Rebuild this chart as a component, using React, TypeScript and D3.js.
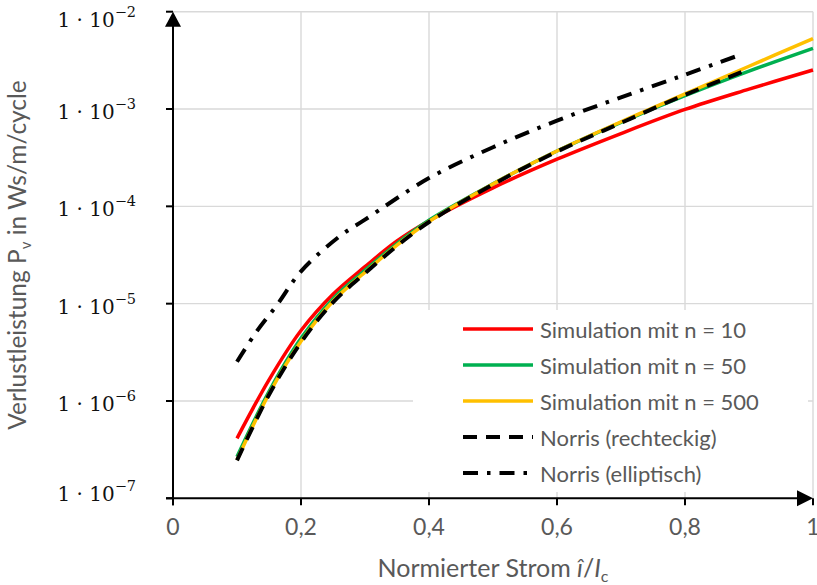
import React from 'react';
import * as d3 from 'd3';

// ---- data ----
const simX = [0.1, 0.15, 0.2, 0.25, 0.3, 0.35, 0.4, 0.5, 0.6, 0.7, 0.8, 0.9, 1.0];
const simN10 = [4.13e-7, 1.65e-6, 5.3e-6, 1.25e-5, 2.4e-5, 4.4e-5, 7.1e-5, 1.55e-4, 3.05e-4, 5.6e-4, 9.9e-4, 1.6e-3, 2.52e-3];
const simN50 = [2.67e-7, 1.25e-6, 4.4e-6, 1.12e-5, 2.2e-5, 4.15e-5, 7.2e-5, 1.7e-4, 3.7e-4, 7.3e-4, 1.37e-3, 2.45e-3, 4.2e-3];
const simN500 = [2.47e-7, 1.18e-6, 4.1e-6, 1.06e-5, 2.1e-5, 4.0e-5, 7.0e-5, 1.7e-4, 3.7e-4, 7.4e-4, 1.43e-3, 2.75e-3, 5.3e-3];
const rectX = [0.1, 0.15, 0.2, 0.25, 0.3, 0.35, 0.4, 0.5, 0.6, 0.7, 0.8, 0.889];
const norrisRect = [2.45e-7, 1.16e-6, 4.0e-6, 1.03e-5, 2.05e-5, 3.92e-5, 6.9e-5, 1.68e-4, 3.65e-4, 7.2e-4, 1.4e-3, 2.4e-3];
const ellipX = [0.1, 0.13, 0.164, 0.2, 0.26, 0.3, 0.4, 0.5, 0.6, 0.7, 0.8, 0.886];
const norrisEllip = [2.53e-6, 5.1e-6, 1.0e-5, 2.15e-5, 4.9e-5, 7.3e-5, 1.95e-4, 4.05e-4, 7.6e-4, 1.32e-3, 2.25e-3, 3.6e-3];

const xTicks = [0, 0.2, 0.4, 0.6, 0.8, 1];
const yExponents = [-2, -3, -4, -5, -6, -7];

const legendLabels = [
  'Simulation mit n = 10',
  'Simulation mit n = 50',
  'Simulation mit n = 500',
  'Norris (rechteckig)',
  'Norris (elliptisch)',
];

// ---- styles ----
const W = 817, H = 585;
const left = 173, right = 813, top = 11.7, bottom = 498.3;
const gridColor = '#d9d9d9';
const textGray = '#595959';
const sansFont = 'Lato, "Open Sans", sans-serif';
const serifFont = '"DejaVu Serif", serif';

type Series = { xs: number[]; ys: number[]; color: string; width: number; dash?: string };

const series: Series[] = [
  { xs: simX, ys: simN10, color: '#ff0000', width: 3.5 },
  { xs: simX, ys: simN50, color: '#00b050', width: 3.5 },
  { xs: simX, ys: simN500, color: '#ffc000', width: 3.5 },
  { xs: rectX, ys: norrisRect, color: '#000000', width: 4, dash: '14,9' },
  { xs: ellipX, ys: norrisEllip, color: '#000000', width: 4, dash: '15,9,3.5,9' },
];

const fmt = d3.formatLocale({ decimal: ',', thousands: '.', grouping: [3], currency: ['', '€'] }).format('~g');

export default function App() {
  const x = d3.scaleLinear().domain([0, 1]).range([left, right]);
  const y = d3.scaleLog().domain([1e-7, 1e-2]).range([bottom, top]);

  const line = (s: Series) =>
    d3
      .line<number>()
      .x((_, i) => x(s.xs[i]))
      .y((v) => y(v))
      .curve(d3.curveCatmullRom.alpha(0.5))(s.ys) || '';

  const legend = { x0: 413, y0: 310, x1: 808, y1: 492, lx0: 463, lx1: 533, tx: 540, ry0: 329, dy: 36 };

  return (
    <svg width={W} height={H} style={{ position: 'absolute', left: 0, top: 0, background: '#fff' }}>
      {/* gridlines */}
      {xTicks.slice(1).map((t) => (
        <line key={'gx' + t} x1={x(t)} x2={x(t)} y1={y(1e-2)} y2={y(1e-7)} stroke={gridColor} strokeWidth={1.4} />
      ))}
      {yExponents.slice(0, -1).map((e) => (
        <line key={'gy' + e} x1={x(0)} x2={x(1)} y1={y(Math.pow(10, e))} y2={y(Math.pow(10, e))} stroke={gridColor} strokeWidth={1.4} />
      ))}

      {/* legend box (covers gridlines) */}
      <rect x={legend.x0} y={legend.y0} width={legend.x1 - legend.x0} height={legend.y1 - legend.y0} fill="#fff" />

      {/* series */}
      {series.map((s, i) => (
        <path key={'s' + i} d={line(s)} fill="none" stroke={s.color} strokeWidth={s.width} strokeDasharray={s.dash} />
      ))}

      {/* axes */}
      <line x1={x(0)} x2={x(0)} y1={y(1e-7) + 7} y2={y(1e-2) + 10} stroke="#000" strokeWidth={2} />
      <path d={`M${x(0)},${y(1e-2)} L${x(0) - 8},${y(1e-2) + 15} L${x(0) + 8},${y(1e-2) + 15} Z`} fill="#000" />
      <line x1={x(0) - 7} x2={x(1) - 10} y1={y(1e-7)} y2={y(1e-7)} stroke="#000" strokeWidth={2} />
      <path d={`M${x(1)},${y(1e-7)} L${x(1) - 16},${y(1e-7) - 8} L${x(1) - 16},${y(1e-7) + 8} Z`} fill="#000" />

      {/* y ticks */}
      {yExponents.map((e) => {
        const yy = y(Math.pow(10, e));
        const cy = Math.min(Math.max(yy + 3, 20), 494);
        return (
          <g key={'yt' + e}>
            <line x1={x(0) - 7} x2={x(0)} y1={yy} y2={yy} stroke="#000" strokeWidth={2} />
            <text x={136} y={cy} dominantBaseline="central" textAnchor="end" fontFamily={serifFont} fontSize={20} fill="#111">
              1 · 10
              <tspan fontSize={14.5} dy={-8}>{'\u2212' + Math.abs(e)}</tspan>
            </text>
          </g>
        );
      })}

      {/* x ticks */}
      {xTicks.map((t) => (
        <g key={'xt' + t}>
          <line x1={x(t)} x2={x(t)} y1={y(1e-7)} y2={y(1e-7) + 7} stroke="#000" strokeWidth={2} />
          <text x={x(t)} y={535} textAnchor="middle" fontFamily={sansFont} fontSize={23} fill={textGray}>
            {fmt(t)}
          </text>
        </g>
      ))}

      {/* axis titles */}
      <text x={(left + right) / 2} y={577} textAnchor="middle" fontFamily={sansFont} fontSize={25} fill={textGray}>
        Normierter Strom <tspan fontStyle="italic">î</tspan>/<tspan fontStyle="italic">I</tspan>
        <tspan fontSize={16} dy={5}>c</tspan>
      </text>
      <text
        transform={`translate(26,255) rotate(-90)`}
        textAnchor="middle"
        fontFamily={sansFont}
        fontSize={24.5}
        fill={textGray}
      >
        Verlustleistung P<tspan fontSize={15} dy={5}>v</tspan>
        <tspan dy={-5}> in Ws/m/cycle</tspan>
      </text>

      {/* legend */}
      {series.map((s, i) => {
        const ry = legend.ry0 + i * legend.dy;
        return (
          <g key={'lg' + i}>
            <line x1={legend.lx0} x2={legend.lx1} y1={ry} y2={ry} stroke={s.color} strokeWidth={s.width} strokeDasharray={s.dash} />
            <text x={legend.tx} y={ry} dominantBaseline="central" fontFamily={sansFont} fontSize={22} fill={textGray}>
              {legendLabels[i]}
            </text>
          </g>
        );
      })}
    </svg>
  );
}
